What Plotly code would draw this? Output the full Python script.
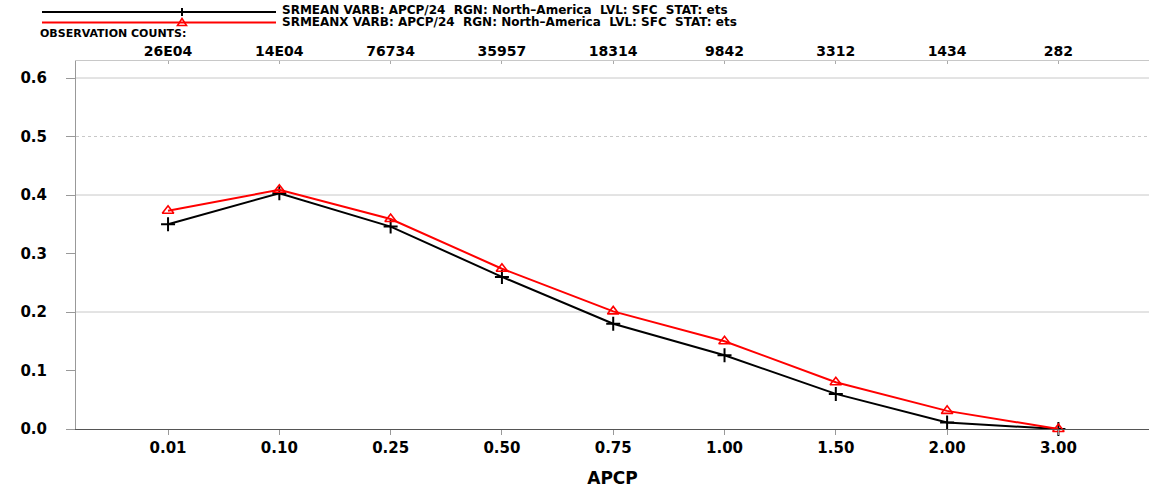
import plotly.graph_objects as go

categories = ["0.01", "0.10", "0.25", "0.50", "0.75", "1.00", "1.50", "2.00", "3.00"]
obs_counts = ["26E04", "14E04", "76734", "35957", "18314", "9842", "3312", "1434", "282"]
srmean = [0.350, 0.403, 0.346, 0.260, 0.180, 0.126, 0.060, 0.011, 0.0]
srmeanx = [0.373, 0.409, 0.359, 0.274, 0.201, 0.150, 0.080, 0.031, 0.0]
y_ticks = [0.0, 0.1, 0.2, 0.3, 0.4, 0.5, 0.6]
y_tick_labels = ["0.0", "0.1", "0.2", "0.3", "0.4", "0.5", "0.6"]
legend_labels = [
    "SRMEAN VARB: APCP/24  RGN: North\u2013America  LVL: SFC  STAT: ets",
    "SRMEANX VARB: APCP/24  RGN: North\u2013America  LVL: SFC  STAT: ets",
]

FONT = "DejaVu Sans"
W, H = 1149, 488
ML, MR, MT, MB = 76, 0, 61, 59
PW, PH = W - ML - MR, H - MT - MB


def px(x):
    return (x - ML) / PW


def py(y):
    return (H - MB - y) / PH


fig = go.Figure()
fig.add_trace(go.Scatter(
    x=categories, y=srmean, mode="lines+markers", name="SRMEAN",
    line=dict(color="black", width=2),
    marker=dict(symbol="cross-thin", size=10, line=dict(color="black", width=2)),
    cliponaxis=False, showlegend=False,
))
fig.add_trace(go.Scatter(
    x=categories, y=srmeanx, mode="lines+markers", name="SRMEANX",
    line=dict(color="red", width=2),
    marker=dict(symbol="triangle-up-open", size=10, color="red", line=dict(color="red", width=1.6)),
    cliponaxis=False, showlegend=False,
))

shapes = []
for g in (0.2, 0.4, 0.6):
    shapes.append(dict(type="line", xref="paper", x0=0, x1=1, yref="y", y0=g, y1=g,
                       line=dict(color="#c8c8c8", width=1), layer="below"))
shapes.append(dict(type="line", xref="paper", x0=0, x1=1, yref="y", y0=0.5, y1=0.5,
                   line=dict(color="#c8c8c8", width=1, dash="dot"), layer="below"))

# legend samples
leg_y = [12, 22.5]
leg_colors = ["black", "red"]
for yy, col in zip(leg_y, leg_colors):
    shapes.append(dict(type="line", xref="paper", yref="paper", x0=px(42), x1=px(276),
                       y0=py(yy), y1=py(yy), line=dict(color=col, width=2)))
shapes.append(dict(type="path", xref="paper", yref="paper", xsizemode="pixel", ysizemode="pixel",
                   xanchor=px(182), yanchor=py(leg_y[0]), path="M-4,0 L4,0 M0,-4 L0,4",
                   line=dict(color="black", width=2)))
shapes.append(dict(type="path", xref="paper", yref="paper", xsizemode="pixel", ysizemode="pixel",
                   xanchor=px(182), yanchor=py(leg_y[1]), path="M0,4 L-4.5,-3 L4.5,-3 Z",
                   line=dict(color="red", width=1.6)))

annotations = []
for txt, yy in zip(legend_labels, [10, 21.5]):
    annotations.append(dict(text=txt, xref="paper", yref="paper", x=px(280), y=py(yy),
                            xanchor="left", yanchor="middle", showarrow=False,
                            font=dict(family=FONT, size=12, color="black", weight="bold")))
annotations.append(dict(text="OBSERVATION COUNTS:", xref="paper", yref="paper", x=px(38), y=py(33.5),
                        xanchor="left", yanchor="middle", showarrow=False,
                        font=dict(family=FONT, size=11, color="black", weight="bold")))

xrange = [-0.827, 8.814]
tickfont = dict(family=FONT, size=15, color="black", weight="bold")
countfont = dict(family=FONT, size=14, color="black", weight="bold")

fig.update_layout(
    width=W, height=H,
    margin=dict(l=ML, r=MR, t=MT, b=MB),
    paper_bgcolor="white", plot_bgcolor="white",
    shapes=shapes, annotations=annotations,
    showlegend=False,
    xaxis=dict(
        type="category", categoryarray=categories, range=xrange,
        showgrid=False, zeroline=False,
        showline=True, linecolor="#555555", linewidth=1,
        ticks="outside", ticklen=5, tickcolor="#999999",
        tickfont=tickfont, ticklabelstandoff=0,
        title=dict(text="APCP", font=dict(family=FONT, size=17, color="black", weight="bold"), standoff=18),
    ),
    xaxis2=dict(
        type="category", categoryarray=categories, range=xrange,
        overlaying="x", side="top", anchor="y",
        tickvals=categories, ticktext=obs_counts,
        showgrid=False, zeroline=False,
        showline=True, linecolor="#c8c8c8", linewidth=1,
        ticks="inside", ticklen=3, tickcolor="#aaaaaa",
        tickfont=countfont, ticklabelstandoff=-2,
    ),
    yaxis=dict(
        range=[0, PH / 585.0], tickvals=y_ticks, ticktext=y_tick_labels,
        showgrid=False, zeroline=False,
        showline=True, linecolor="#999999", linewidth=1,
        ticks="outside", ticklen=9, tickcolor="#999999",
        tickfont=tickfont, ticklabelstandoff=16,
    ),
)
fig.add_trace(go.Scatter(x=categories, y=[None] * len(categories), xaxis="x2", yaxis="y",
                         showlegend=False, hoverinfo="skip"))

fig.write_html("out.html")
